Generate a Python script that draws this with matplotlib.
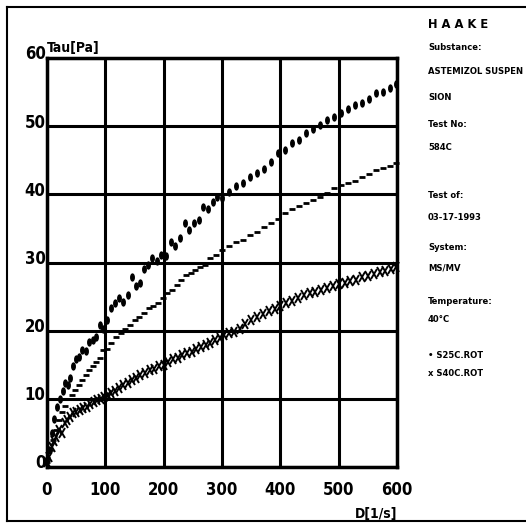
import matplotlib
matplotlib.use("Agg")
import matplotlib.pyplot as plt
from matplotlib import font_manager
from matplotlib.font_manager import FontProperties
from matplotlib.lines import Line2D
from matplotlib.markers import MarkerStyle
from matplotlib.path import Path
from matplotlib.transforms import Affine2D, ScaledTranslation

# look for a narrow / condensed bold face, the printout font is very narrow
narrow = None
for f in font_manager.fontManager.ttflist:
    fn = f.fname.lower()
    if ('narrow' in fn or 'cond' in fn) and 'bold' in fn and 'oblique' not in fn and 'italic' not in fn:
        narrow = f.fname
        break


def fp(size):
    if narrow:
        return FontProperties(fname=narrow, size=size)
    return FontProperties(family=['Liberation Sans', 'DejaVu Sans'], weight='bold', size=size * 0.85)


# Data: shear rate D [1/s] vs shear stress Tau [Pa]
dots_x = [0, 3, 8, 12, 17, 22, 27, 31, 36, 40, 45, 50, 55, 60, 66, 72, 78, 84, 90, 96,
          103, 110, 117, 124, 131, 138, 145, 152, 159, 166, 173, 180, 188, 196, 204, 212,
          220, 228, 236, 244, 252, 260, 268, 276, 284, 292, 300, 312, 324, 336, 348, 360,
          372, 384, 396, 408, 420, 432, 444, 456, 468, 480, 492, 504, 516, 528, 540, 552,
          564, 576, 588, 598]
dots_y = [1.0, 2.5, 5.0, 7.0, 8.8, 10.0, 11.2, 12.3, 12.0, 13.0, 14.8, 15.8, 16.2, 17.2,
          17.0, 18.3, 18.6, 19.0, 20.8, 20.2, 21.5, 23.3, 24.0, 24.8, 24.2, 25.2, 27.9,
          26.5, 27.0, 29.0, 29.6, 30.6, 30.2, 31.1, 31.0, 33.0, 32.4, 33.6, 35.8, 34.8,
          35.8, 36.2, 38.1, 37.8, 38.9, 39.6, 39.4, 40.3, 41.2, 41.6, 42.5, 43.1, 43.7,
          44.8, 46.0, 46.5, 47.5, 48.0, 49.0, 49.6, 50.2, 50.9, 51.3, 51.9, 52.5, 53.1,
          53.4, 54.0, 54.8, 55.0, 55.6, 56.2]

dash_x = [0, 5, 10, 15, 20, 25, 30, 36, 42, 48, 54, 60, 66, 72, 78, 84, 90, 96, 103, 110,
          118, 126, 134, 142, 150, 158, 166, 174, 182, 190, 198, 206, 214, 222, 230, 238,
          246, 254, 262, 270, 280, 290, 300, 312, 324, 336, 348, 360, 372, 384, 396, 408,
          420, 432, 444, 456, 468, 480, 492, 504, 516, 528, 540, 552, 564, 576, 588, 598]
dash_y = [0.8, 2.5, 4.0, 5.5, 6.9, 8.0, 9.0, 10.0, 10.5, 11.3, 12.0, 12.8, 13.5, 14.2,
          14.8, 15.4, 16.0, 17.2, 17.3, 18.2, 19.0, 19.6, 20.2, 20.8, 21.5, 22.0, 22.6,
          23.3, 23.6, 24.0, 24.8, 25.5, 26.0, 26.7, 27.4, 28.2, 28.5, 28.9, 29.3, 29.6,
          30.6, 31.1, 31.8, 32.4, 33.0, 33.3, 34.0, 34.5, 35.2, 35.8, 36.4, 37.2, 37.8,
          38.3, 38.7, 39.2, 39.6, 40.2, 41.0, 41.3, 41.6, 42.0, 42.5, 43.0, 43.5, 43.8,
          44.2, 44.6]

cross_x = [0, 4, 8, 12, 16, 20, 25, 30, 35, 40, 45, 50, 56, 62, 68, 74, 80, 86, 92, 98,
           104, 110, 117, 124, 131, 138, 145, 152, 160, 168, 176, 184, 192, 200, 208, 216,
           224, 232, 240, 248, 256, 264, 272, 280, 288, 296, 304, 312, 320, 330, 340, 350,
           360, 370, 380, 390, 400, 410, 420, 430, 440, 450, 460, 470, 480, 490, 500, 510,
           520, 530, 540, 550, 560, 570, 580, 590, 598]
cross_y = [0.8, 1.5, 2.9, 3.8, 4.4, 5.4, 5.0, 6.4, 6.9, 7.3, 7.9, 8.1, 8.4, 8.6, 8.8, 9.2,
           9.5, 9.8, 10.0, 10.3, 10.5, 10.8, 11.2, 11.6, 12.0, 12.3, 12.8, 13.0, 13.5, 13.8,
           14.2, 14.4, 14.8, 15.0, 15.4, 15.8, 16.0, 16.4, 16.7, 16.9, 17.3, 17.6, 17.9,
           18.2, 18.6, 18.9, 19.3, 19.6, 19.8, 20.3, 21.0, 21.5, 22.0, 22.4, 22.9, 23.2,
           23.6, 24.0, 24.4, 24.8, 25.2, 25.5, 25.7, 26.0, 26.2, 26.5, 26.8, 27.0, 27.3,
           27.5, 27.8, 28.0, 28.3, 28.6, 28.8, 29.0, 29.3]

xticks = [0, 100, 200, 300, 400, 500, 600]
yticks = [0, 10, 20, 30, 40, 50, 60]

info_lines = [
    ('H A A K E', 25), ('Substance:', 47), ('ASTEMIZOL SUSPEN', 72), ('SION', 97),
    ('Test No:', 124), ('584C', 147), ('Test of:', 195), ('03-17-1993', 217),
    ('System:', 248), ('MS/MV', 268), ('Temperature:', 302), ('40°C', 320),
    ('• S25C.ROT', 355), ('x S40C.ROT', 373),
]

W, H = 526, 524
fig = plt.figure(figsize=(W / 100, H / 100), dpi=100)
fig.patch.set_facecolor('white')
ax = fig.add_axes([47 / W, 1 - 467 / H, 350 / W, 409 / H])

# dot-matrix style markers
dot_marker = MarkerStyle(Path.unit_circle(), transform=Affine2D().scale(0.5, 1.0))
x_marker = MarkerStyle('x', transform=Affine2D().scale(0.7, 1.25))

ax.plot(dots_x, dots_y, ls='none', marker=dot_marker, ms=5, color='black', clip_on=False)
ax.plot(dash_x, dash_y, ls='none', marker='_', ms=5, mew=2.0, color='black', clip_on=False)
ax.plot(cross_x, cross_y, ls='none', marker=x_marker, ms=5.5, mew=1.4, color='black', clip_on=False)

ax.set_xlim(0, 600)
ax.set_ylim(0, 60)
ax.set_xticks(xticks)
ax.set_yticks(yticks)
ax.set_xticklabels([str(v) for v in xticks])
ax.set_yticklabels([str(v) for v in yticks])
ax.grid(True, color='black', lw=2.2)
ax.set_axisbelow(True)
for sp in ax.spines.values():
    sp.set_linewidth(2.5)
ax.tick_params(length=0, colors='black')
ax.tick_params(axis='x', pad=10)
ax.tick_params(axis='y', pad=1)
up = ScaledTranslation(0, 4 / 72, fig.dpi_scale_trans)
for lbl in ax.get_yticklabels():
    lbl.set_fontproperties(fp(12))
    lbl.set_transform(lbl.get_transform() + up)
for lbl in ax.get_xticklabels():
    lbl.set_fontproperties(fp(12))

ax.text(0.0, 1.008, 'Tau[Pa]', transform=ax.transAxes, ha='left', va='bottom',
        fontproperties=fp(10))
ax.text(1.0, -0.115, 'D[1/s]', transform=ax.transAxes, ha='right', va='center',
        fontproperties=fp(10))

info_texts = []
for txt, ypx in info_lines:
    t = fig.text(428 / W, 1 - ypx / H, txt, ha='left', va='center',
                 fontproperties=fp(11 if txt.startswith('H A') else 8))
    info_texts.append(t)

# shrink the info column so the longest line stays inside the page
renderer = fig.canvas.get_renderer()
widest = max(t.get_window_extent(renderer).width for t in info_texts)
room = W - 428 - 3
if widest > room:
    k = room / widest
    for t in info_texts:
        t.set_fontsize(t.get_fontsize() * k)

# outer frame of the printout
for xs, ys in [((7, W), (7, 7)), ((7, 7), (7, 521)), ((7, W), (521, 521))]:
    fig.add_artist(Line2D([x / W for x in xs], [1 - y / H for y in ys],
                          color='black', lw=1.5, transform=fig.transFigure))

fig.savefig('out.png', dpi=100, facecolor='white')
